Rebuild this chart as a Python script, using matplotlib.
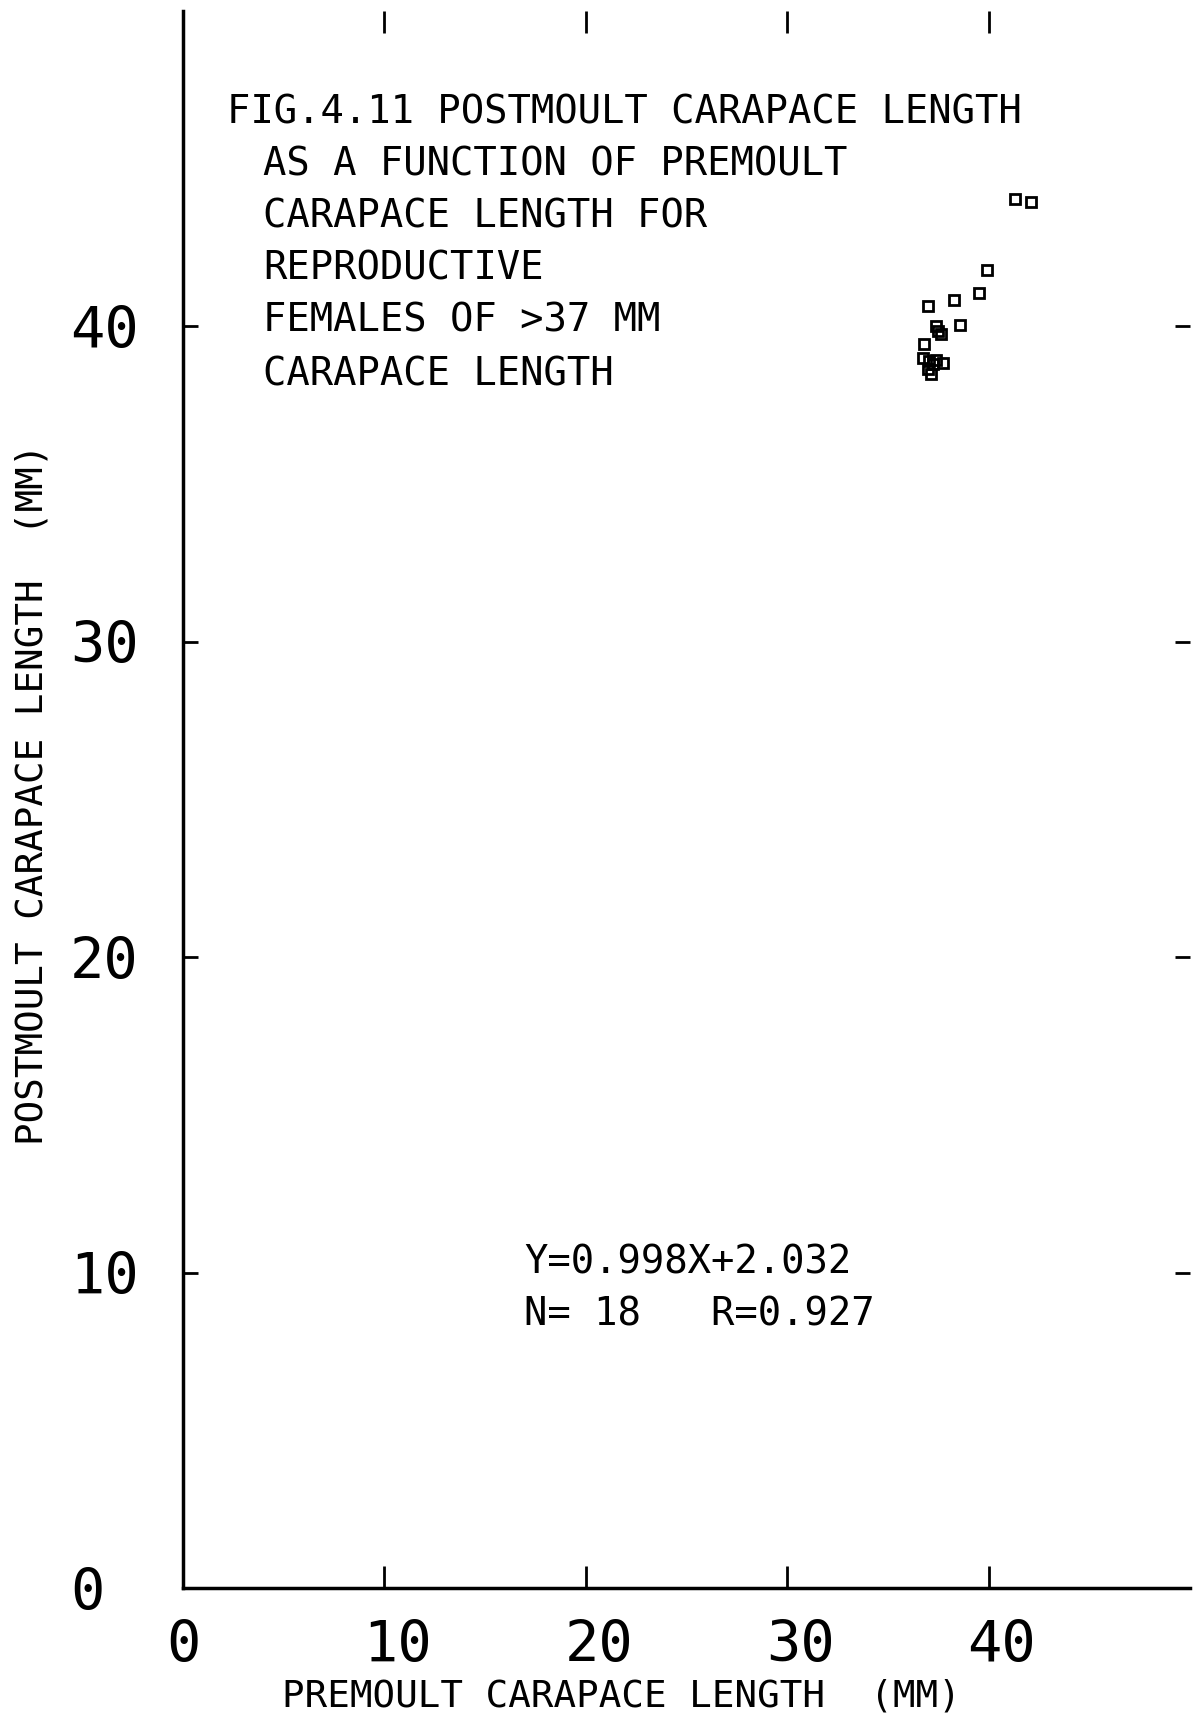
import matplotlib
matplotlib.use("Agg")
import matplotlib.pyplot as plt
import matplotlib.transforms as mtransforms

# premoult vs postmoult carapace length (mm), reproductive females > 37 mm
premoult = [41.3, 42.1, 39.9, 39.5, 38.3, 37.0, 38.6, 37.4, 37.65, 37.5,
            36.8, 36.75, 37.05, 37.4, 37.75, 37.25, 37.0, 37.15]
postmoult = [44.05, 43.95, 41.8, 41.05, 40.85, 40.65, 40.05, 40.0, 39.75, 39.85,
             39.45, 39.0, 38.9, 38.95, 38.85, 38.8, 38.65, 38.5]

x_ticks = [0, 10, 20, 30, 40]
y_ticks = [0, 10, 20, 30, 40]

title_lines = [
    "FIG.4.11 POSTMOULT CARAPACE LENGTH",
    "AS A FUNCTION OF PREMOULT",
    "CARAPACE LENGTH FOR",
    "REPRODUCTIVE",
    "FEMALES OF >37 MM",
    "CARAPACE LENGTH",
]
fit_lines = ["Y=0.998X+2.032", "N= 18   R=0.927"]

W, H = 1202, 1719
plt.rcParams["font.family"] = ["DejaVu Sans Mono", "DejaVu Sans"]

fig = plt.figure(figsize=(W / 100, H / 100), dpi=100)
ax = fig.add_axes([183 / W, 1 - 1588 / H, (1190 - 183) / W, (1588 - 11) / H])

ax.plot(premoult, postmoult, ls="none", marker="s", ms=6.5,
        mfc="none", mec="black", mew=2.0)

ax.set_xlim(0, 50)
ax.set_ylim(0, 50)
ax.set_xticks(x_ticks)
ax.set_yticks(y_ticks)
ax.set_xticklabels([str(v) for v in x_ticks])
ax.set_yticklabels([str(v) for v in y_ticks])

for side in ("top", "right"):
    ax.spines[side].set_visible(False)
for side in ("left", "bottom"):
    ax.spines[side].set_linewidth(2.5)

ax.tick_params(axis="both", which="major", direction="in", top=True, right=True,
               width=2.0, labelsize=41)
ax.tick_params(axis="x", length=16, pad=22)
ax.tick_params(axis="y", length=11, pad=50)

# y tick labels sit left-aligned in a column
for lab in ax.get_yticklabels():
    lab.set_horizontalalignment("left")
    lab.set_transform(mtransforms.blended_transform_factory(fig.transFigure, ax.transData))
    lab.set_x(70 / W)

# two-digit x labels are shifted right of their ticks
shift = mtransforms.ScaledTranslation(13 / 100, 0, fig.dpi_scale_trans)
for lab in ax.get_xticklabels()[1:]:
    lab.set_transform(lab.get_transform() + shift)

ax.set_xlabel("PREMOULT CARAPACE LENGTH  (MM)", fontsize=27)
ax.xaxis.set_label_coords((621 - 183) / 1007, (1588 - 1697) / 1577)
ax.xaxis.label.set_verticalalignment("center")
ax.set_ylabel("POSTMOULT CARAPACE LENGTH  (MM)", fontsize=27)
ax.yaxis.set_label_coords((33 - 183) / 1007, (1588 - 794) / 1577)
ax.yaxis.label.set_verticalalignment("center")

title_x = [227] + [263] * 5
title_y = [112, 164.5, 216, 268.7, 321, 374]
for txt, tx, ty in zip(title_lines, title_x, title_y):
    fig.text(tx / W, 1 - ty / H, txt, fontsize=28, ha="left", va="center")

for txt, ty in zip(fit_lines, [1263, 1314]):
    fig.text(524 / W, 1 - ty / H, txt, fontsize=28, ha="left", va="center")

fig.savefig("out.png", dpi=100)
